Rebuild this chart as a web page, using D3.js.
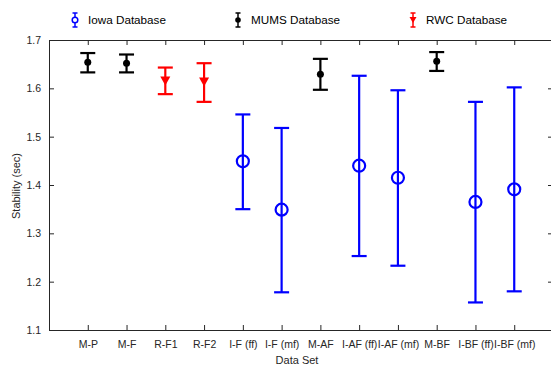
<!DOCTYPE html>
<html><head><meta charset="utf-8">
<script src="https://cdn.jsdelivr.net/npm/d3@7"></script>
<style>body{margin:0;background:#fff}svg{display:block;font-family:"Liberation Sans",Arial,sans-serif}</style>
</head><body>
<script>
const categories = ["M-P","M-F","R-F1","R-F2","I-F (ff)","I-F (mf)","M-AF","I-AF (ff)","I-AF (mf)","M-BF","I-BF (ff)","I-BF (mf)"];
const database   = ["MUMS","MUMS","RWC","RWC","Iowa","Iowa","MUMS","Iowa","Iowa","MUMS","Iowa","Iowa"];
const means      = [1.654,1.652,1.614,1.612,1.449,1.349,1.629,1.440,1.415,1.656,1.365,1.391];
const upper      = [1.673,1.670,1.643,1.652,1.546,1.518,1.661,1.626,1.596,1.675,1.572,1.602];
const lower      = [1.633,1.633,1.588,1.572,1.350,1.178,1.597,1.253,1.233,1.636,1.157,1.180];
const yTicks     = [1.1,1.2,1.3,1.4,1.5,1.6,1.7];
const legendItems = ["Iowa","MUMS","RWC"];
const legendLabels = ["Iowa Database","MUMS Database","RWC Database"];

(function(){
const W=551,H=367;
const color={Iowa:"#0000ff",MUMS:"#000000",RWC:"#ff0000"};
const svg=d3.select("body").append("svg").attr("width",W).attr("height",H);
const x=d3.scaleLinear().domain([0,13]).range([49,553]);
const y=d3.scaleLinear().domain([1.1,1.7]).range([330,40]);
const axisCol="#262626";

const axB=svg.append("g").attr("transform","translate(0,330)")
  .call(d3.axisBottom(x).tickValues(d3.range(1,13)).tickFormat((d)=>categories[d-1]).tickSizeInner(-5).tickSizeOuter(0).tickPadding(11));
const axT=svg.append("g").attr("transform","translate(0,40)")
  .call(d3.axisTop(x).tickValues(d3.range(1,13)).tickFormat("").tickSizeInner(-5).tickSizeOuter(0));
const axL=svg.append("g").attr("transform","translate(49,0)")
  .call(d3.axisLeft(y).tickValues(yTicks).tickFormat(d3.format(".1f")).tickSizeInner(-5).tickSizeOuter(0).tickPadding(8));
const axR=svg.append("g").attr("transform","translate(553,0)")
  .call(d3.axisRight(y).tickValues(yTicks).tickFormat("").tickSizeInner(-5).tickSizeOuter(0));
[axB,axT,axL,axR].forEach(g=>{
  g.selectAll("path").attr("stroke",axisCol).attr("stroke-width",1);
  g.selectAll("line").attr("stroke",axisCol).attr("stroke-width",1);
  g.selectAll("text").attr("fill",axisCol).attr("font-size",10.5).attr("font-family","Liberation Sans, Arial, sans-serif");
});

svg.append("text").attr("x",297).attr("y",364).attr("text-anchor","middle").attr("font-size",11).attr("fill",axisCol).text("Data Set");
svg.append("text").attr("transform","translate(20,186) rotate(-90)").attr("text-anchor","middle").attr("font-size",11).attr("fill",axisCol).text("Stability (sec)");

const data=categories.map((c,i)=>({i:i+1,db:database[i],m:means[i],u:upper[i],l:lower[i]}));
const g=svg.append("g");
data.forEach(d=>{
  const cx=x(d.i), col=color[d.db];
  const gg=g.append("g").attr("stroke",col).attr("stroke-width",2.2).attr("fill","none");
  gg.append("line").attr("x1",cx).attr("x2",cx).attr("y1",y(d.u)).attr("y2",y(d.l));
  gg.append("line").attr("x1",cx-7.5).attr("x2",cx+7.5).attr("y1",y(d.u)).attr("y2",y(d.u));
  gg.append("line").attr("x1",cx-7.5).attr("x2",cx+7.5).attr("y1",y(d.l)).attr("y2",y(d.l));
  const cy=y(d.m);
  if(d.db==="Iowa"){
    gg.append("circle").attr("cx",cx).attr("cy",cy).attr("r",6).attr("fill","none").attr("stroke-width",2.2);
  } else if(d.db==="MUMS"){
    gg.append("circle").attr("cx",cx).attr("cy",cy).attr("r",3.5).attr("fill",col).attr("stroke","none");
  } else {
    gg.append("path").attr("d",`M${cx-5},${cy-5}L${cx+5},${cy-5}L${cx},${cy+4}Z`).attr("fill",col).attr("stroke","none");
  }
});

const lx=[75,238,413];
legendItems.forEach((k,i)=>{
  const col=color[k], cx=lx[i], cy=20;
  const lg=svg.append("g").attr("stroke",col).attr("stroke-width",1.5);
  lg.append("line").attr("x1",cx).attr("x2",cx).attr("y1",cy-7).attr("y2",cy+7);
  lg.append("line").attr("x1",cx-2.5).attr("x2",cx+2.5).attr("y1",cy-7).attr("y2",cy-7);
  lg.append("line").attr("x1",cx-2.5).attr("x2",cx+2.5).attr("y1",cy+7).attr("y2",cy+7);
  if(k==="Iowa") lg.append("circle").attr("cx",cx).attr("cy",cy).attr("r",2.8).attr("fill","#fff").attr("stroke-width",1.5);
  else if(k==="MUMS") lg.append("circle").attr("cx",cx).attr("cy",cy).attr("r",2.8).attr("fill",col).attr("stroke","none");
  else lg.append("path").attr("d",`M${cx-3.5},${cy-3}L${cx+3.5},${cy-3}L${cx},${cy+3}Z`).attr("fill",col).attr("stroke","none");
  svg.append("text").attr("x",cx+13).attr("y",cy+4).attr("font-size",11.7).attr("fill","#000").text(legendLabels[i]);
});
})();
</script>
</body></html>
